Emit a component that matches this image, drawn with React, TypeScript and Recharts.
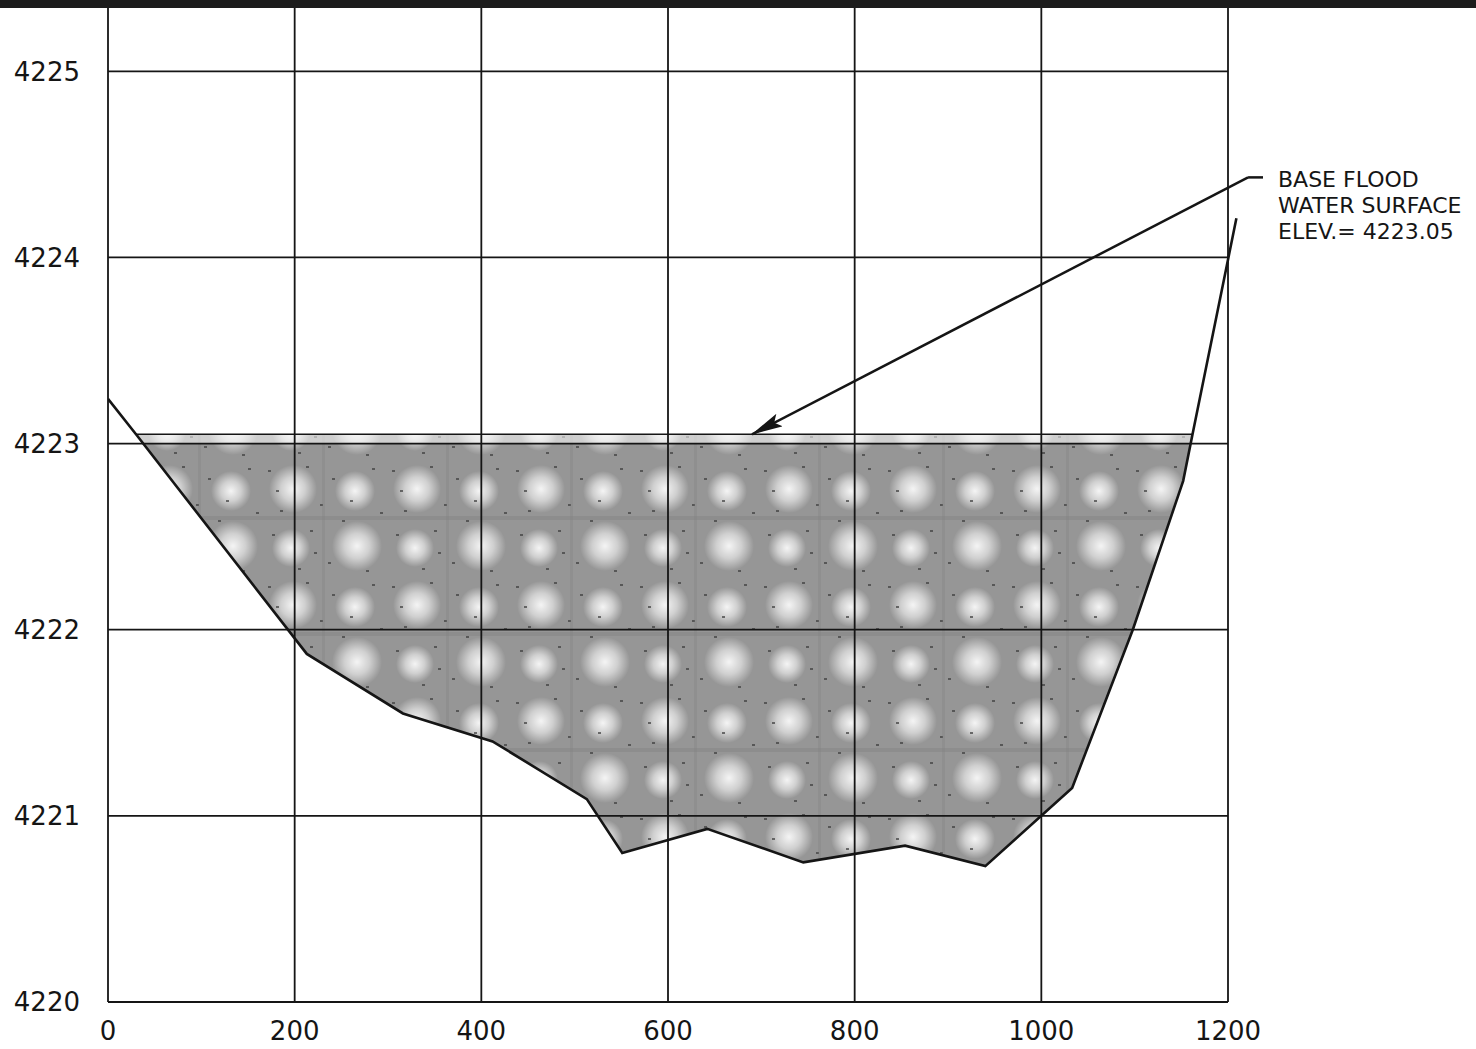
import React from "react";
import {
  ComposedChart,
  Line,
  Area,
  XAxis,
  YAxis,
  ReferenceLine,
  ReferenceArea,
} from "recharts";

const STATIONS = [0, 30, 213, 316, 412, 513, 551, 642, 745, 854, 940, 1033, 1098, 1152, 1162, 1209];
const GROUND = [
  4223.24, 4223.05, 4221.87, 4221.55, 4221.4, 4221.09, 4220.8, 4220.93, 4220.75, 4220.84, 4220.73,
  4221.15, 4222.0, 4222.8, 4223.05, 4224.21,
];
const WSEL = 4223.05;
const WATER_FROM = 30;
const WATER_TO = 1162;

const X_TICKS = [0, 200, 400, 600, 800, 1000, 1200];
const Y_TICKS = [4220, 4221, 4222, 4223, 4224, 4225];
const Y_TOP = 4225.34;

// leader from the note down to the water surface
const LEADER_START = { x: 1221.5, y: 4224.43 };
const LEADER_TICK_END = { x: 1237.5, y: 4224.43 };
const LEADER_TIP = { x: 690, y: WSEL };

const NOTE_LINES = ["BASE FLOOD", "WATER SURFACE", "ELEV.=  4223.05"];

const rows = STATIONS.map((x, i) => ({
  x,
  ground: GROUND[i],
  water: x >= WATER_FROM && x <= WATER_TO ? [GROUND[i], WSEL] : null,
}));

const INK = "#151515";
const FONT = "'DejaVu Sans', sans-serif";

function ArrowLine(props: any) {
  const { x1, y1, x2, y2 } = props;
  return (
    <line x1={x1} y1={y1} x2={x2} y2={y2} stroke={INK} strokeWidth={2.5} markerEnd="url(#leaderHead)" />
  );
}

// soft light blotches + specks, like the scanned screen tone
const SPOTS = [
  { cx: 31, cy: 29, r: 24 },
  { cx: 93, cy: 31, r: 20 },
  { cx: 29, cy: 88, r: 19 },
  { cx: 95, cy: 86, r: 25 },
];
const SPECKS = [
  [6, 10], [44, 6], [70, 18], [110, 8], [18, 50], [58, 44], [80, 60], [118, 52],
  [10, 74], [48, 70], [66, 102], [104, 110], [36, 108], [88, 40], [14, 30], [52, 92],
];

export default function App() {
  return (
    <div style={{ position: "absolute", left: 0, top: 0, width: 1476, height: 1049, background: "#fff" }}>
      <div style={{ position: "absolute", left: 0, top: 0, width: 1476, height: 8, background: "#1c1c1c" }} />
      <ComposedChart
        width={1476}
        height={1049}
        data={rows}
        margin={{ top: 8, right: 234, bottom: 0, left: 0 }}
      >
        <XAxis
          dataKey="x"
          type="number"
          domain={[0, 1215]}
          ticks={X_TICKS}
          allowDataOverflow
          axisLine={false}
          tickLine={false}
          tickSize={0}
          tickMargin={20}
          height={47}
          tick={{ fill: INK, fontSize: 26, fontFamily: FONT }}
        />
        <YAxis
          type="number"
          domain={[4220, Y_TOP]}
          ticks={Y_TICKS}
          allowDataOverflow
          axisLine={false}
          tickLine={false}
          tickSize={0}
          tickMargin={28}
          width={108}
          tick={{ fill: INK, fontSize: 26, fontFamily: FONT }}
        />
        <Area
          dataKey="water"
          type="linear"
          stroke="none"
          fill="url(#floodHatch)"
          fillOpacity={1}
          isAnimationActive={false}
        />
        <ReferenceArea
          x1={WATER_FROM}
          x2={WATER_TO}
          y1={4223}
          y2={WSEL}
          fill="#ffffff"
          fillOpacity={0.55}
          stroke="none"
        />
        {X_TICKS.map((t) => (
          <ReferenceLine
            key={"v" + t}
            segment={[
              { x: t, y: 4220 },
              { x: t, y: Y_TOP },
            ]}
            stroke={INK}
            strokeWidth={1.8}
          />
        ))}
        {Y_TICKS.map((t) => (
          <ReferenceLine
            key={"h" + t}
            segment={[
              { x: 0, y: t },
              { x: 1200, y: t },
            ]}
            stroke={INK}
            strokeWidth={1.8}
          />
        ))}
        <ReferenceLine
          segment={[
            { x: WATER_FROM, y: WSEL },
            { x: WATER_TO, y: WSEL },
          ]}
          stroke={INK}
          strokeWidth={1.6}
        />
        <Line
          dataKey="ground"
          type="linear"
          stroke={INK}
          strokeWidth={2.6}
          dot={false}
          isAnimationActive={false}
        />
        <ReferenceLine segment={[LEADER_START, LEADER_TICK_END]} stroke={INK} strokeWidth={2.5} ifOverflow="visible" />
        <ReferenceLine segment={[LEADER_START, LEADER_TIP]} shape={ArrowLine} ifOverflow="visible" />
      </ComposedChart>
      <svg
        width={1476}
        height={1049}
        style={{ position: "absolute", left: 0, top: 0, pointerEvents: "none" }}
      >
        <defs>
          <marker
            id="leaderHead"
            markerUnits="userSpaceOnUse"
            markerWidth={32}
            markerHeight={14}
            refX={31}
            refY={7}
            orient="auto"
          >
            <path d="M0,0 L32,7 L0,14 L6,7 z" fill={INK} />
          </marker>
          <radialGradient id="spot">
            <stop offset="0%" stopColor="#ffffff" stopOpacity={0.9} />
            <stop offset="50%" stopColor="#ffffff" stopOpacity={0.55} />
            <stop offset="100%" stopColor="#ffffff" stopOpacity={0} />
          </radialGradient>
          <pattern id="floodHatch" patternUnits="userSpaceOnUse" width={124} height={116} x={14} y={-4}>
            <rect width={124} height={116} fill="#969696" />
            {SPOTS.map((s, i) => (
              <circle key={i} cx={s.cx} cy={s.cy} r={s.r} fill="url(#spot)" />
            ))}
            {SPECKS.map(([x, y], i) => (
              <rect key={i} x={x} y={y} width={3} height={2} fill="#3c3c3c" opacity={0.7} />
            ))}
            <rect x={0} y={56} width={124} height={4} fill="#7a7a7a" opacity={0.35} />
            <rect x={60} y={0} width={3} height={116} fill="#7a7a7a" opacity={0.25} />
          </pattern>
        </defs>
        {NOTE_LINES.map((s, i) => (
          <text key={s} x={1278} y={187 + i * 26} fontFamily={FONT} fontSize={22} fill={INK}>
            {s}
          </text>
        ))}
      </svg>
    </div>
  );
}
